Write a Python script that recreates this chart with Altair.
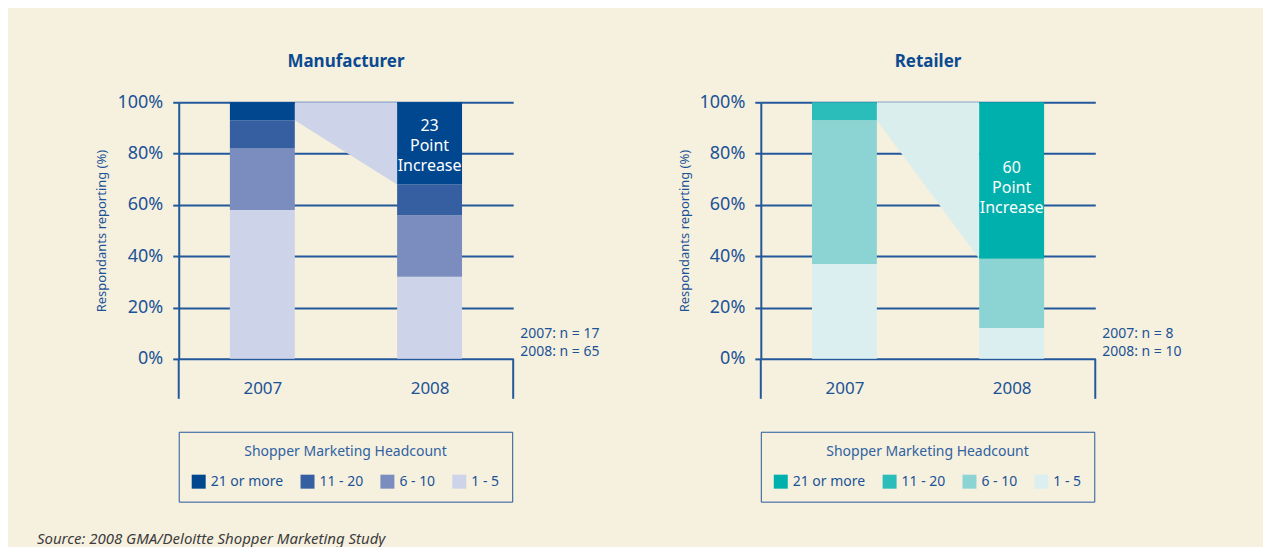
import altair as alt
import pandas as pd

# ---------------- data ----------------
YEARS = ["2007", "2008"]
HEADCOUNT = ["21 or more", "11 - 20", "6 - 10", "1 - 5"]   # top -> bottom of each bar

MFG_2007 = [7, 11, 24, 58]
MFG_2008 = [32, 12, 24, 32]
RET_2007 = [0, 7, 56, 37]
RET_2008 = [61, 0, 27, 12]

MFG_N = [17, 65]
RET_N = [8, 10]

MFG_NOTE = ["23", "Point", "Increase"]
RET_NOTE = ["60", "Point", "Increase"]

MFG_COLORS = ["#004790", "#355FA0", "#7B8CBF", "#CDD3E8"]
RET_COLORS = ["#00B0AC", "#2ABDB9", "#8CD4D3", "#DBEFF0"]
MFG_WEDGE = "#CDD3E8"
RET_WEDGE = "#DBEEEE"

SOURCE = "Source: 2008 GMA/Deloitte Shopper Marketing Study"
Y_TITLE = "Respondants reporting (%)"
LEGEND_TITLE = "Shopper Marketing Headcount"

# ---------------- style ----------------
FONT = "Noto Sans"
BLUE = "#1B5396"
TITLE_BLUE = "#0B4A91"
LINE = "#23589A"
BG = "#F6F0DF"
W, H = 335, 257
BAR_PX = 65
HALF = BAR_PX / W          # half bar width in x-data units (domain 0..2)


def panel(title, v07, v08, colors, wedge_color, wedge_k, note, note_y, ns, source=False):
    rows = []
    tops = {}
    for i, (yr, vals) in enumerate(zip(YEARS, [v07, v08])):
        pos = i + 0.5
        base = 0.0
        for cat, v in reversed(list(zip(HEADCOUNT, vals))):
            rows.append(dict(year=yr, cat=cat, x=pos - HALF, x2=pos + HALF,
                             y=base, y2=base + v))
            base += v
        tops[yr] = 100 - sum(vals[:wedge_k])
    bars = pd.DataFrame(rows)

    wedge = pd.DataFrame({
        "x": [0.5 + HALF, 1.5 - HALF],
        "low": [tops[YEARS[0]], tops[YEARS[1]]],
        "high": [100, 100],
    })

    label_expr = " : ".join(
        [f"datum.value == {i + 0.5} ? '{y}'" for i, y in enumerate(YEARS)] + ["''"])

    xscale = alt.Scale(domain=[0, 2], nice=False, zero=False)
    yscale = alt.Scale(domain=[0, 100], nice=False)
    xaxis = alt.Axis(values=[0.5, 1.5], labelExpr=label_expr, title=None, grid=False,
                     domain=False, ticks=False, labelPadding=22, labelFontSize=17,
                     labelColor=BLUE, labelFont=FONT)
    yaxis = alt.Axis(values=[0, 20, 40, 60, 80, 100], labelExpr="datum.value + '%'",
                     title=Y_TITLE, grid=True, gridColor=LINE, gridWidth=2,
                     tickSize=6, tickColor=LINE, tickWidth=2,
                     domain=True, domainColor=LINE, domainWidth=2,
                     labelFontSize=18, labelColor=BLUE, labelFont=FONT, labelPadding=10,
                     titleFontSize=13, titleFontWeight="normal", titleColor=BLUE,
                     titleFont=FONT, titlePadding=8)

    wedge_layer = alt.Chart(wedge).mark_area(color=wedge_color, opacity=1).encode(
        x=alt.X("x:Q", scale=xscale, axis=xaxis),
        y=alt.Y("low:Q", scale=yscale, axis=yaxis),
        y2="high:Q",
    )

    bar_layer = alt.Chart(bars).mark_rect().encode(
        x=alt.X("x:Q", scale=xscale, axis=xaxis),
        x2="x2:Q",
        y=alt.Y("y:Q", scale=yscale, axis=yaxis),
        y2="y2:Q",
        color=alt.Color("cat:N", scale=alt.Scale(domain=HEADCOUNT, range=colors),
                        legend=alt.Legend(title=LEGEND_TITLE, orient="none",
                                          legendX=0, legendY=330,
                                          direction="horizontal", columns=4,
                                          titleAnchor="middle", titleAlign="center",
                                          titleLimit=500, labelLimit=200,
                                          strokeColor=LINE, padding=13,
                                          symbolType="square", symbolSize=196,
                                          symbolStrokeWidth=0, symbolOpacity=1,
                                          labelFontSize=14, labelColor=BLUE,
                                          labelFont=FONT, labelOffset=5,
                                          titleFontSize=14, titleFontWeight="normal",
                                          titleColor="#2F62A0", titleFont=FONT,
                                          titlePadding=16, columnPadding=17)),
    )

    sep = alt.Chart(pd.DataFrame({"x": [0, 2]})).mark_rule(
        color=LINE, strokeWidth=2).encode(
        x=alt.X("x:Q", scale=xscale, axis=xaxis),
        y=alt.value(H), y2=alt.value(H + 40),
    )

    note_layer = alt.Chart(pd.DataFrame({"x": [1.5], "y": [note_y], "t": [note]})).mark_text(
        color="white", fontSize=16, font=FONT, lineHeight=20, baseline="middle").encode(
        x=alt.X("x:Q", scale=xscale, axis=xaxis),
        y=alt.Y("y:Q", scale=yscale, axis=yaxis),
        text="t",
    )

    n_layer = alt.Chart(pd.DataFrame({
        "t": [f"{y}: n = {n}" for y, n in zip(YEARS, ns)],
        "py": [H - 25, H - 7]})).mark_text(
        color=BLUE, fontSize=14, font=FONT, align="left", baseline="middle").encode(
        x=alt.value(W + 7), y=alt.Y("py:Q", scale=None), text="t")

    layers = [wedge_layer, bar_layer, sep, note_layer, n_layer]
    if source:
        src = alt.Chart(pd.DataFrame({"t": [SOURCE]})).mark_text(
            color="#3C3C3C", fontSize=15, font=FONT, fontStyle="italic",
            align="left", baseline="middle").encode(
            x=alt.value(-142), y=alt.value(437), text="t")
        layers.append(src)

    return alt.layer(*layers).properties(
        width=W, height=H,
        title=alt.TitleParams(title, fontSize=17, fontWeight="bold", color=TITLE_BLUE,
                              font=FONT, anchor="middle", frame="group", offset=22),
    )


left = panel("Manufacturer", MFG_2007, MFG_2008, MFG_COLORS, MFG_WEDGE, 1,
             MFG_NOTE, 90.7, MFG_N, source=True)
right = panel("Retailer", RET_2007, RET_2008, RET_COLORS, RET_WEDGE, 2,
              RET_NOTE, 74.3, RET_N)

chart = alt.hconcat(left, right, spacing=248, bounds="flush").resolve_scale(
    color="independent").resolve_legend(color="independent").properties(
    background=BG,
    padding={"left": 29, "top": 45, "right": 81, "bottom": 0},
).configure_view(stroke=None)

chart.save("out.html", embed_options={"renderer": "svg", "actions": False})
